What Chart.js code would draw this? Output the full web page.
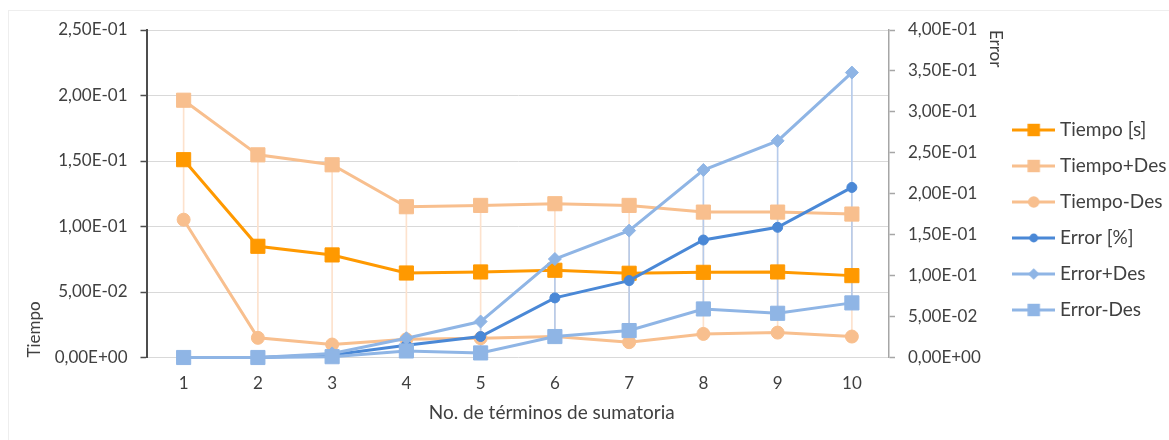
<!DOCTYPE html>
<html>
<head>
<meta charset="utf-8">
<title>Tiempo y error vs. términos de sumatoria</title>
<script src="https://cdn.jsdelivr.net/npm/chart.js@4/dist/chart.umd.min.js"></script>
<style>
    html, body { margin: 0; padding: 0; background: #fff; overflow: hidden; }
    #wrap { position: relative; width: 1169px; height: 440px; }
    #frame { position: absolute; left: 8px; top: 10px; width: 1200px; height: 500px; border: 1px solid #eeeeee; }
    #wrap canvas { position: absolute; left: 0; top: 0; }
</style>
</head>
<body>
<div id="wrap">
    <div id="frame"></div>
    <canvas id="chart"></canvas>
</div>
<script>
const terminos = ['1', '2', '3', '4', '5', '6', '7', '8', '9', '10'];

// tiempo medio y desviación (eje izquierdo)
const tiempo = [0.151, 0.0849, 0.0783, 0.0645, 0.0653, 0.0666, 0.0643, 0.0650, 0.0653, 0.0625];
const tiempoMasDes = [0.1964, 0.1547, 0.1471, 0.1151, 0.1161, 0.1174, 0.1161, 0.1110, 0.1110, 0.1095];
const tiempoMenosDes = [0.1052, 0.0150, 0.0099, 0.0139, 0.0147, 0.0160, 0.0117, 0.0180, 0.0190, 0.0160];

// error y desviación (eje derecho)
const error = [0, 0, 0.003, 0.0150, 0.0256, 0.0728, 0.0939, 0.1435, 0.1590, 0.2077];
const errorMasDes = [0, 0, 0.005, 0.0235, 0.0439, 0.1203, 0.1550, 0.2290, 0.2646, 0.3480];
const errorMenosDes = [0, 0, 0.001, 0.0080, 0.0056, 0.0256, 0.0329, 0.0593, 0.0540, 0.0667];

const tiempoTicks = { min: 0, max: 0.25, step: 0.05 };
const errorTicks = { min: 0, max: 0.4, step: 0.05 };

const TEXT = '#404040';
const NARANJA = '#ff9900';
const DURAZNO = '#f8bf8e';
const AZUL = '#4a88d6';
const CELESTE = '#8fb5e5';

Chart.defaults.font.family = 'Lato';
Chart.defaults.color = TEXT;

// 2.5e-1 -> "2,50E-01"
function sci(v) {
    const [m, e] = Number(v).toExponential(2).split('e');
    const exp = parseInt(e, 10);
    return m.replace('.', ',') + 'E' + (exp < 0 ? '-' : '+') + String(Math.abs(exp)).padStart(2, '0');
}

function serie(label, data, color, style, radius, axis, order) {
    return {
        type: 'line',
        label: label,
        data: data,
        yAxisID: axis,
        order: order,
        borderColor: color,
        backgroundColor: color,
        borderWidth: 3,
        pointStyle: style,
        pointRadius: radius,
        pointBorderWidth: 1,
        pointBackgroundColor: color,
        pointBorderColor: color,
        tension: 0,
        fill: false,
        clip: false
    };
}

// líneas alto-bajo entre +Des y -Des
function rango(label, bajo, alto, color, axis, order) {
    return {
        type: 'bar',
        label: label,
        hiLo: true,
        data: bajo.map((v, i) => [v, alto[i]]),
        yAxisID: axis,
        order: order,
        backgroundColor: color,
        borderWidth: 0,
        barThickness: 1,
        grouped: false
    };
}

// muestra de leyenda: línea con el marcador en medio
function swatch(ds) {
    const c = document.createElement('canvas');
    c.width = 43;
    c.height = 16;
    const ctx = c.getContext('2d');
    ctx.strokeStyle = ds.borderColor;
    ctx.fillStyle = ds.borderColor;
    ctx.lineWidth = 3;
    ctx.beginPath();
    ctx.moveTo(0, 8);
    ctx.lineTo(43, 8);
    ctx.stroke();
    const r = ds.pointRadius * 0.88;
    const cx = 21.5, cy = 8;
    ctx.beginPath();
    if (ds.pointStyle === 'rect') {
        const s = r * Math.SQRT1_2;
        ctx.rect(cx - s, cy - s, 2 * s, 2 * s);
    } else if (ds.pointStyle === 'rectRot') {
        ctx.moveTo(cx - r, cy);
        ctx.lineTo(cx, cy - r);
        ctx.lineTo(cx + r, cy);
        ctx.lineTo(cx, cy + r);
        ctx.closePath();
    } else {
        ctx.arc(cx, cy, r, 0, Math.PI * 2);
    }
    ctx.fill();
    return c;
}

const xCaption = {
    id: 'xCaption',
    afterDraw(chart, args, opts) {
        const { ctx, chartArea } = chart;
        ctx.save();
        ctx.font = opts.size + 'px Lato';
        ctx.fillStyle = TEXT;
        ctx.textAlign = 'center';
        ctx.textBaseline = 'middle';
        ctx.fillText(opts.text, (chartArea.left + chartArea.right) / 2 + opts.dx, chartArea.bottom + opts.dy);
        ctx.restore();
    }
};

const datasets = [
    serie('Tiempo [s]', tiempo, NARANJA, 'rect', 10, 'y', 6),
    serie('Tiempo+Des', tiempoMasDes, DURAZNO, 'rect', 10, 'y', 5),
    serie('Tiempo-Des', tiempoMenosDes, DURAZNO, 'circle', 6.5, 'y', 4),
    serie('Error [%]', error, AZUL, 'circle', 5, 'y1', 3),
    serie('Error+Des', errorMasDes, CELESTE, 'rectRot', 6.5, 'y1', 2),
    serie('Error-Des', errorMenosDes, CELESTE, 'rect', 10, 'y1', 1),
    rango('rango tiempo', tiempoMenosDes, tiempoMasDes, '#fde2cd', 'y', 9),
    rango('rango error', errorMenosDes, errorMasDes, '#b6cbeb', 'y1', 8)
];

new Chart(document.getElementById('chart'), {
    type: 'line',
    data: { labels: terminos, datasets: datasets },
    plugins: [xCaption],
    options: {
        responsive: true,
        maintainAspectRatio: false,
        animation: false,
        layout: { padding: { top: 30, right: 2, bottom: 30, left: 0 } },
        scales: {
            x: {
                type: 'category',
                offset: true,
                grid: { display: false, drawTicks: false },
                border: { display: false },
                ticks: { padding: 16, font: { size: 17 }, color: TEXT },
                afterFit(scale) { scale.height = 52.5; }
            },
            y: {
                position: 'left',
                min: tiempoTicks.min,
                max: tiempoTicks.max,
                grid: { color: '#d9d9d9', lineWidth: 1, tickColor: '#4d4d4d', tickLength: 6, tickWidth: 1.5 },
                border: { color: '#4d4d4d', width: 2 },
                ticks: { stepSize: tiempoTicks.step, padding: 13, font: { size: 17 }, color: TEXT, callback: sci },
                title: { display: true, text: 'Tiempo', align: 'start', color: TEXT, font: { size: 17 }, padding: { top: 24.8, bottom: 0 } },
                afterFit(scale) { scale.width = 146.5; }
            },
            y1: {
                position: 'right',
                min: errorTicks.min,
                max: errorTicks.max,
                grid: { drawOnChartArea: false, tickColor: '#a6a6a6', tickLength: 6, tickWidth: 1.5 },
                border: { color: '#a6a6a6', width: 1.5 },
                ticks: { stepSize: errorTicks.step, padding: 13, font: { size: 17 }, color: TEXT, callback: sci },
                title: { display: true, text: 'Error', align: 'end', color: TEXT, font: { size: 17 }, padding: { top: -5.2, bottom: 0 } },
                afterFit(scale) { scale.width = 111; }
            }
        },
        plugins: {
            tooltip: { enabled: false },
            xCaption: { text: 'No. de términos de sumatoria', size: 19, dx: 34, dy: 55.5 },
            legend: {
                position: 'right',
                maxWidth: 167,
                labels: {
                    usePointStyle: true,
                    pointStyleWidth: 33.5,
                    padding: 17,
                    color: TEXT,
                    font: { size: 19 },
                    generateLabels(chart) {
                        return chart.data.datasets
                            .map((ds, i) => ({ ds, i }))
                            .filter(o => !o.ds.hiLo)
                            .map(o => ({
                                text: o.ds.label,
                                datasetIndex: o.i,
                                pointStyle: swatch(o.ds),
                                fillStyle: o.ds.borderColor,
                                strokeStyle: o.ds.borderColor,
                                lineWidth: 0,
                                fontColor: TEXT,
                                hidden: false
                            }));
                    }
                }
            }
        }
    }
});
</script>
</body>
</html>
